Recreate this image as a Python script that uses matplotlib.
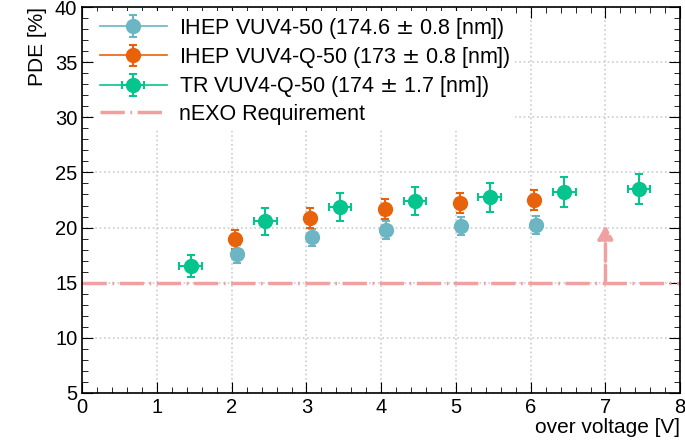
import matplotlib.pyplot as plt
import numpy as np
from matplotlib.ticker import MultipleLocator
from matplotlib.lines import Line2D

plt.rcParams['font.family'] = ['Liberation Sans', 'DejaVu Sans']

# IHEP VUV4-50
ihep_x = [2.07, 3.07, 4.07, 5.07, 6.07]
ihep_y = [17.6, 19.1, 19.8, 20.15, 20.25]
ihep_err = [0.8, 0.8, 0.8, 0.8, 0.8]

# IHEP VUV4-Q-50
ihepq_x = [2.05, 3.05, 4.05, 5.05, 6.05]
ihepq_y = [18.95, 20.9, 21.7, 22.2, 22.5]
ihepq_err = [0.85, 0.9, 0.9, 0.9, 0.9]

# TR VUV4-Q-50
tr_x = [1.45, 2.45, 3.45, 4.45, 5.45, 6.45, 7.45]
tr_y = [16.5, 20.55, 21.85, 22.4, 22.75, 23.2, 23.5]
tr_yerr = [1.0, 1.2, 1.25, 1.25, 1.3, 1.35, 1.37]
tr_xerr = [0.15] * 7

requirement = 15
arrow_x = 7
arrow_top = 20.2

c_blue = '#6cb5c2'
c_orange = '#e8620c'
c_green = '#06c48e'
c_req = '#f0a0a0'

fs = 15.5
req_dash = (7.0, 1.6, 0.5, 1.6)

fig = plt.figure(figsize=(6.85, 4.41), dpi=100)
ax = fig.add_axes([0.12, 0.109, 0.873, 0.875])

ax.axhline(requirement, color=c_req, lw=2.5, dashes=req_dash, zorder=2)
ax.annotate('', xy=(arrow_x, arrow_top), xytext=(arrow_x, requirement),
            arrowprops=dict(arrowstyle='-|>,head_width=0.45,head_length=0.8',
                            color=c_req, lw=2.5, linestyle=(0, (5, 1.2)),
                            shrinkA=0, shrinkB=0), zorder=2)

kw = dict(fmt='o', ms=10, capsize=3, elinewidth=1.5, capthick=1.5, zorder=3)
h1 = ax.errorbar(ihep_x, ihep_y, yerr=ihep_err, color=c_blue, **kw)
h2 = ax.errorbar(ihepq_x, ihepq_y, yerr=ihepq_err, color=c_orange, **kw)
h3 = ax.errorbar(tr_x, tr_y, yerr=tr_yerr, xerr=tr_xerr, color=c_green, **kw)

ax.set_xlim(0, 8)
ax.set_ylim(5, 40)
ax.xaxis.set_major_locator(MultipleLocator(1))
ax.xaxis.set_minor_locator(MultipleLocator(0.2))
ax.yaxis.set_major_locator(MultipleLocator(5))
ax.yaxis.set_minor_locator(MultipleLocator(1))
ax.tick_params(which='both', direction='in', top=True, right=True, labelsize=14.5)
ax.tick_params(which='major', length=8)
ax.tick_params(which='minor', length=4)
ax.grid(True, which='major', color='#cccccc', linestyle=':', lw=1.2)
for s in ax.spines.values():
    s.set_linewidth(1.2)

ax.set_xlabel('over voltage [V]', fontsize=15, loc='right', labelpad=1)
ax.set_ylabel('PDE [%]', fontsize=15, loc='top', labelpad=6)

handles = [
    (Line2D([], [], color=c_blue, lw=1.2), h1),
    (Line2D([], [], color=c_orange, lw=1.2), h2),
    (Line2D([], [], color=c_green, lw=1.2), h3),
    Line2D([], [], color=c_req, lw=2.5, dashes=req_dash),
]
labels = ['IHEP VUV4-50 (174.6 $\\pm$ 0.8 [nm])',
          'IHEP VUV4-Q-50 (173 $\\pm$ 0.8 [nm])',
          'TR VUV4-Q-50 (174 $\\pm$ 1.7 [nm])',
          'nEXO Requirement']
leg = ax.legend(handles, labels, loc='upper left', fontsize=fs, frameon=True,
                framealpha=1, edgecolor='none', handlelength=3.1,
                handletextpad=0.6, borderaxespad=0.2, labelspacing=0.2,
                borderpad=0.2, bbox_to_anchor=(0.015, 1.0))
leg.set_zorder(5)

fig.savefig('out.png', dpi=100)
